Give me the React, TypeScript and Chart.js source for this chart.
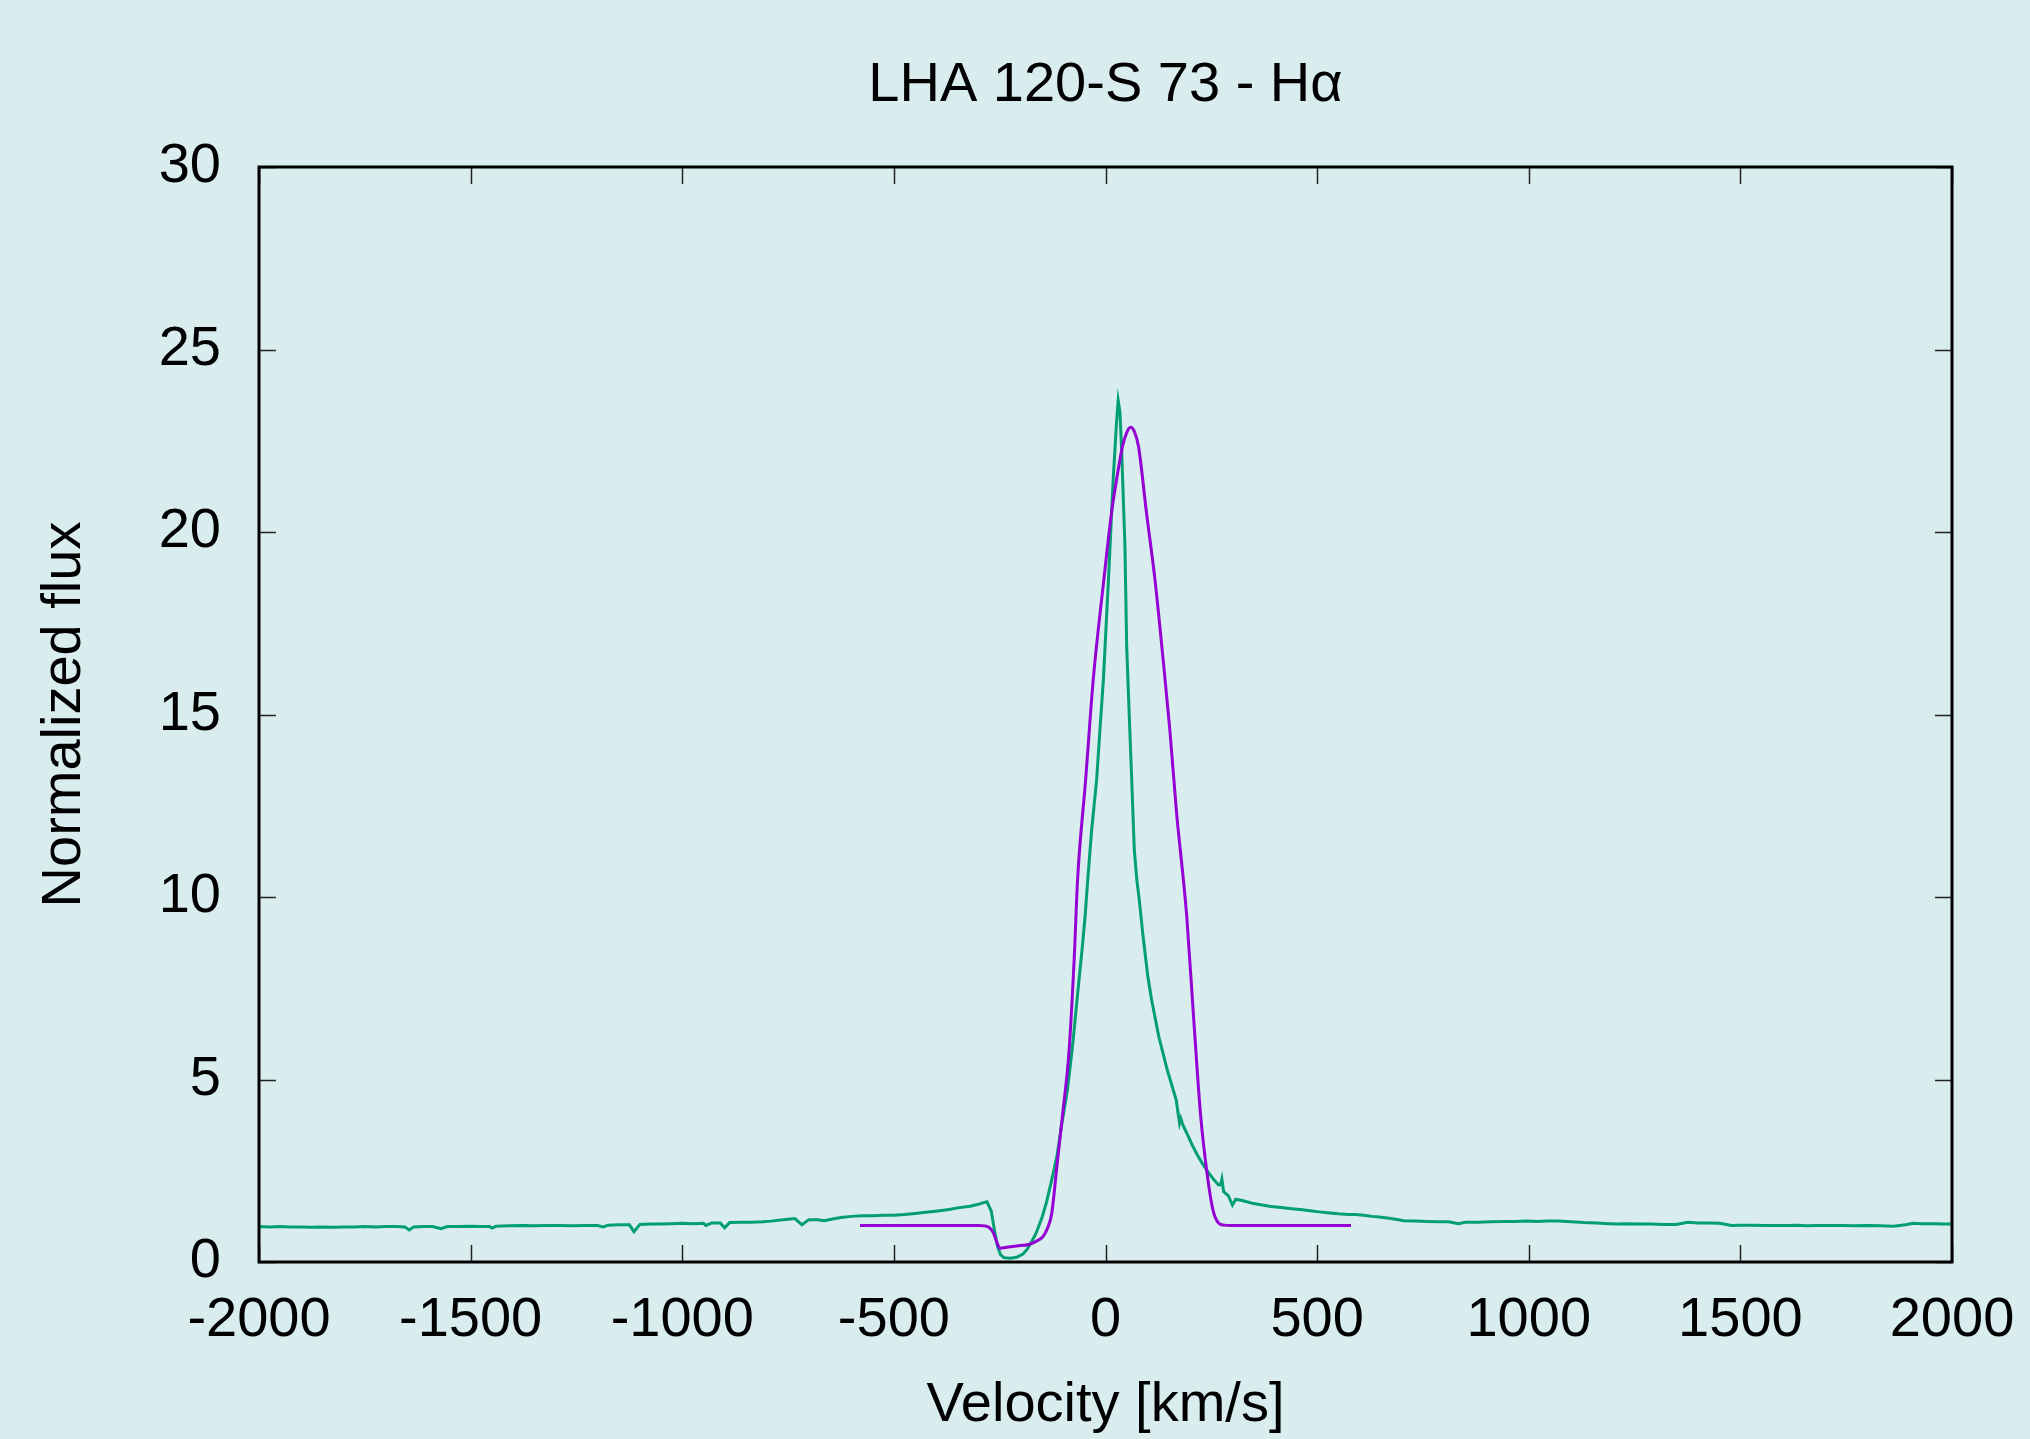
import React, { useEffect, useRef } from "react";
import { Chart, registerables } from "chart.js";

Chart.register(...registerables);

const TITLE = "LHA 120-S 73 - H\u03b1";
const X_TITLE = "Velocity [km/s]";
const Y_TITLE = "Normalized flux";
const X_TICKS = [-2000, -1500, -1000, -500, 0, 500, 1000, 1500, 2000];
const Y_TICKS = [0, 5, 10, 15, 20, 25, 30];

// Observed spectrum (green)
const obsVelocity = [
  -2000, -1975, -1950, -1925, -1900, -1875, -1850, -1825, -1800, -1775, -1750, -1725, -1700, -1675,
  -1655, -1645, -1635, -1610, -1590, -1570, -1555, -1530, -1500, -1475, -1455, -1449, -1440, -1410,
  -1380, -1350, -1320, -1290, -1260, -1230, -1200, -1187, -1175, -1150, -1125, -1114, -1100, -1075,
  -1050, -1025, -1000, -975, -950, -944, -930, -910, -900, -888, -860, -835, -810, -790, -767, -750,
  -734, -717, -701, -680, -664, -645, -625, -600, -575, -550, -525, -500, -475, -450, -425, -396,
  -370, -345, -320, -300, -290, -280, -270, -262, -255, -248, -240, -225, -210, -195, -185, -175,
  -164, -150, -140, -128, -115, -103, -90, -78, -65, -55, -48, -42, -33, -21, -13, -5, 7, 18, 26,
  30, 34, 38, 46, 50, 56, 62, 68, 74, 80, 88, 100, 109, 126, 146, 167, 175, 178, 183, 192, 205, 217,
  230, 242, 255, 267, 272, 275, 279, 290, 300, 308, 325, 350, 370, 391, 415, 440, 460, 474, 500, 525,
  550, 573, 590, 610, 630, 647, 670, 696, 704, 730, 760, 788, 810, 834, 850, 880, 910, 940, 970, 993,
  1020, 1045, 1068, 1100, 1130, 1160, 1190, 1208, 1230, 1260, 1290, 1320, 1348, 1376, 1400, 1425,
  1451, 1479, 1500, 1530, 1560, 1582, 1610, 1635, 1656, 1680, 1710, 1740, 1770, 1800, 1830, 1862,
  1890, 1909, 1930, 1960, 1980, 2000,
];
const obsFlux = [
  0.97, 0.96, 0.97, 0.96, 0.96, 0.95, 0.96, 0.95, 0.96, 0.96, 0.97, 0.96, 0.97, 0.97,
  0.96, 0.88, 0.96, 0.97, 0.97, 0.91, 0.97, 0.97, 0.98, 0.97, 0.97, 0.93, 0.98, 0.99,
  1.0, 0.99, 1.0, 1.0, 0.99, 1.0, 1.0, 0.96, 1.01, 1.02, 1.02, 0.83, 1.03, 1.04,
  1.04, 1.05, 1.06, 1.05, 1.06, 1.0, 1.07, 1.07, 0.94, 1.08, 1.09, 1.09, 1.1, 1.12, 1.15, 1.17,
  1.19, 1.02, 1.16, 1.16, 1.13, 1.18, 1.22, 1.25, 1.27, 1.27, 1.28, 1.28, 1.3, 1.33, 1.36, 1.4,
  1.44, 1.49, 1.53, 1.58, 1.62, 1.65, 1.4, 0.85, 0.42, 0.2, 0.12, 0.1, 0.13, 0.22, 0.35, 0.55,
  0.79, 1.22, 1.61, 2.2, 2.88, 3.8, 4.71, 5.9, 7.45, 8.6, 9.5, 10.47, 11.8, 13.2, 14.6, 15.95, 18.7, 21.4, 23.0,
  23.6, 23.3, 22.3, 19.6, 16.9, 15.0, 13.2, 11.3, 10.47, 9.9, 9.0, 7.82, 7.18, 6.17, 5.26, 4.44, 3.8, 3.93, 3.75, 3.53, 3.2, 2.93,
  2.68, 2.47, 2.27, 2.11, 2.12, 2.27, 1.93, 1.82, 1.56, 1.72, 1.68, 1.6, 1.56, 1.52, 1.49, 1.46, 1.44, 1.42, 1.38, 1.35,
  1.32, 1.3, 1.3, 1.28, 1.25, 1.23, 1.2, 1.15, 1.13, 1.12, 1.11, 1.1, 1.1, 1.05, 1.09, 1.09, 1.1, 1.11, 1.11, 1.12,
  1.11, 1.12, 1.12, 1.1, 1.08, 1.07, 1.05, 1.04, 1.05, 1.04, 1.04, 1.03, 1.03, 1.09, 1.07, 1.07,
  1.06, 1.0, 1.01, 1.01, 1.0, 1.0, 1.0, 1.01, 0.99, 1.0, 1.0, 1.0, 0.99, 1.0, 0.99, 0.98,
  1.02, 1.06, 1.05, 1.05, 1.04, 1.04,
];

// Model profile (purple)
const modelVelocity = [
  -580, -300, -285, -275, -265, -257, -250, -230, -210, -181, -165, -148, -138, -127, -115, -102,
  -86, -74, -66, -47, -29, -4, 14, 26, 40, 50, 59, 68, 78, 97, 117, 137, 152, 168, 184, 192,
  208, 225, 242, 254, 266, 280, 300, 580,
];
const modelFlux = [
  1.0, 1.0, 0.99, 0.95, 0.8, 0.55, 0.38, 0.41, 0.44, 0.48, 0.56, 0.69, 0.9, 1.33, 2.61, 3.98,
  5.8, 8.3, 10.47, 13.2, 15.95, 18.68, 20.51, 21.42, 22.34, 22.72, 22.87, 22.76, 22.34, 20.51, 18.68, 16.4, 14.58, 12.29, 10.47, 9.46,
  6.72, 3.98, 2.25, 1.42, 1.08, 1.01, 1.0, 1.0,
];

const FONT = "'Liberation Sans', Arial, Helvetica, sans-serif";
const BG = "#d9ecee";

const framePlugin = {
  id: "frameTicks",
  afterDraw(chart: any) {
    const { ctx, chartArea } = chart;
    const { left, right, top, bottom } = chartArea;
    const xs = chart.scales.x;
    const ys = chart.scales.y;
    const len = 17;
    ctx.save();
    ctx.strokeStyle = "#222";
    ctx.lineWidth = 1.5;
    ctx.beginPath();
    X_TICKS.forEach((v) => {
      const px = Math.round(xs.getPixelForValue(v)) + 0.5;
      ctx.moveTo(px, bottom);
      ctx.lineTo(px, bottom - len);
      ctx.moveTo(px, top);
      ctx.lineTo(px, top + len);
    });
    Y_TICKS.forEach((v) => {
      const py = Math.round(ys.getPixelForValue(v)) + 0.5;
      ctx.moveTo(left, py);
      ctx.lineTo(left + len, py);
      ctx.moveTo(right, py);
      ctx.lineTo(right - len, py);
    });
    ctx.stroke();
    ctx.strokeStyle = "#000";
    ctx.lineWidth = 3;
    ctx.strokeRect(left, top, right - left, bottom - top);
    // title centred over the plot area
    ctx.fillStyle = "#000";
    ctx.font = `56px ${FONT}`;
    ctx.textAlign = "center";
    ctx.textBaseline = "alphabetic";
    ctx.fillText(TITLE, (left + right) / 2, 101);
    ctx.restore();
  },
};

export default function App() {
  const canvasRef = useRef<HTMLCanvasElement | null>(null);

  useEffect(() => {
    document.body.style.margin = "0";
    document.body.style.overflow = "hidden";
    document.body.style.background = BG;
    const canvas = canvasRef.current;
    if (!canvas) return;
    const obsData = obsVelocity.map((v, i) => ({ x: v, y: obsFlux[i] }));
    const modelData = modelVelocity.map((v, i) => ({ x: v, y: modelFlux[i] }));
    const chart = new Chart(canvas, {
      type: "line",
      data: {
        datasets: [
          {
            label: "model",
            data: modelData,
            borderColor: "#9400d3",
            borderWidth: 3,
            pointRadius: 0,
            fill: false,
            cubicInterpolationMode: "monotone",
          },
          {
            label: "observed",
            data: obsData,
            borderColor: "#009e73",
            borderWidth: 3,
            pointRadius: 0,
            fill: false,
            tension: 0,
          },
        ],
      },
      options: {
        animation: false,
        responsive: false,
        layout: { padding: { left: 0, right: 78, top: 167, bottom: 0 } },
        plugins: {
          legend: { display: false },
          tooltip: { enabled: false },
          title: { display: false },
        },
        scales: {
          x: {
            type: "linear",
            min: -2000,
            max: 2000,
            afterFit: (s: any) => {
              s.height = 177;
              s.paddingLeft = 0;
              s.paddingRight = 0;
            },
            afterBuildTicks: (s: any) => {
              s.ticks = X_TICKS.map((v) => ({ value: v }));
            },
            ticks: {
              color: "#000",
              font: { family: FONT, size: 56 },
              padding: 25,
              maxRotation: 0,
              autoSkip: false,
              callback: (v: any) => String(v),
            },
            grid: { display: false, drawTicks: false, tickLength: 0 },
            border: { display: false },
            title: {
              display: true,
              text: X_TITLE,
              color: "#000",
              font: { family: FONT, size: 56 },
              padding: { top: 0, bottom: 0 },
            },
          },
          y: {
            type: "linear",
            min: 0,
            max: 30,
            afterFit: (s: any) => {
              s.width = 259;
              s.paddingTop = 0;
              s.paddingBottom = 0;
            },
            afterBuildTicks: (s: any) => {
              s.ticks = Y_TICKS.map((v) => ({ value: v }));
            },
            ticks: {
              color: "#000",
              font: { family: FONT, size: 56 },
              padding: 38,
              autoSkip: false,
              callback: (v: any) => String(v),
            },
            grid: { display: false, drawTicks: false, tickLength: 0 },
            border: { display: false },
            title: {
              display: true,
              text: Y_TITLE,
              color: "#000",
              font: { family: FONT, size: 56 },
              padding: { top: 31, bottom: 0 },
            },
          },
        },
      },
      plugins: [framePlugin],
    });
    return () => {
      chart.destroy();
    };
  }, []);

  return (
    <div style={{ position: "fixed", left: 0, top: 0, width: 2030, height: 1439, background: BG }}>
      <canvas ref={canvasRef} width={2030} height={1439} style={{ display: "block" }} />
    </div>
  );
}
